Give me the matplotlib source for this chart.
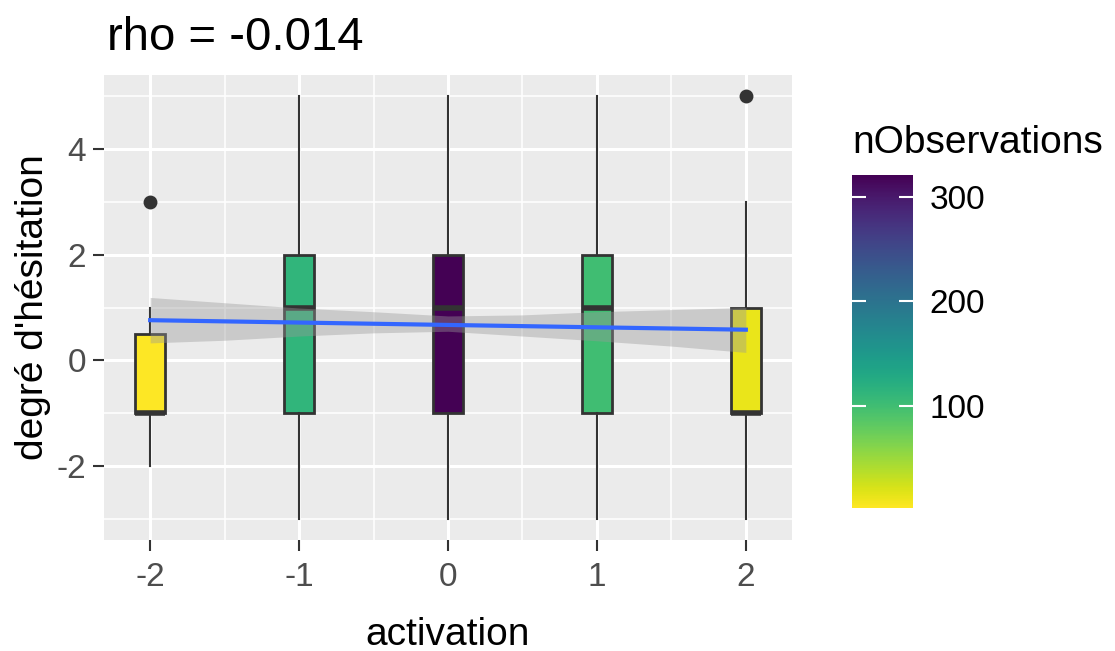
import matplotlib.pyplot as plt
import matplotlib as mpl
import numpy as np

plt.rcParams['font.family'] = ['Liberation Sans', 'DejaVu Sans']
plt.rcParams['axes.unicode_minus'] = False

# boxplot statistics per activation level
activation = [-2, -1, 0, 1, 2]
q1 = [-1, -1, -1, -1, -1]
med = [-1, 1, 1, 1, -1]
q3 = [0.5, 2, 2, 2, 1]
whis_lo = [-2, -3, -3, -3, -3]
whis_hi = [1, 5, 5, 5, 3]
outliers = [[3], [], [], [], [5]]
n_obs = [2, 112, 321, 100, 12]

# linear smooth and its confidence band
line_x = [-2, 2]
line_y = [0.76, 0.58]
band_x = [-2, -1.5, -1, -0.5, 0, 0.5, 1, 1.5, 2]
band_lo = [0.33, 0.38, 0.46, 0.52, 0.55, 0.46, 0.37, 0.27, 0.15]
band_hi = [1.19, 1.09, 0.99, 0.92, 0.84, 0.86, 0.92, 0.96, 1.00]

cmap = mpl.colormaps['viridis_r']
norm = mpl.colors.Normalize(vmin=min(n_obs), vmax=max(n_obs))

W, H = 1115, 651
fig = plt.figure(figsize=(W / 100, H / 100), dpi=100)
ax = fig.add_axes([104 / W, 1 - 540 / H, (792 - 104) / W, (540 - 75) / H])
ax.set_facecolor('#EBEBEB')
for s in ax.spines.values():
    s.set_visible(False)

stats = []
for i in range(len(activation)):
    stats.append(dict(med=med[i], q1=q1[i], q3=q3[i],
                      whislo=whis_lo[i], whishi=whis_hi[i], fliers=outliers[i]))
bp = ax.bxp(stats, positions=activation, widths=0.2, patch_artist=True,
            showcaps=False, manage_ticks=False,
            boxprops=dict(edgecolor='#333333', linewidth=2),
            whiskerprops=dict(color='#333333', linewidth=1.5),
            medianprops=dict(color='#333333', linewidth=4, solid_capstyle='butt'),
            flierprops=dict(marker='o', markerfacecolor='#333333',
                            markeredgecolor='none', markersize=10))
for patch, n in zip(bp['boxes'], n_obs):
    patch.set_facecolor(cmap(norm(n)))
for item in bp['boxes'] + bp['whiskers'] + bp['medians'] + bp['fliers']:
    item.set_zorder(3)

ax.fill_between(band_x, band_lo, band_hi, color='#999999', alpha=0.4,
                linewidth=0, zorder=4)
ax.plot(line_x, line_y, color='#3366FF', linewidth=3, zorder=5)

ax.set_xlim(-2.31, 2.31)
ax.set_ylim(-3.4, 5.4)
ax.set_xticks(activation)
ax.set_xticks([-1.5, -0.5, 0.5, 1.5], minor=True)
ax.set_yticks([-2, 0, 2, 4])
ax.set_yticks([-3, -1, 1, 3, 5], minor=True)
ax.grid(which='major', color='white', linewidth=2.2, zorder=0)
ax.grid(which='minor', color='white', linewidth=1.1, zorder=0)
ax.set_axisbelow(True)
ax.tick_params(which='major', length=8, width=1.5, color='#333333',
               labelsize=24, labelcolor='#4D4D4D')
ax.tick_params(axis='x', pad=8)
ax.tick_params(axis='y', pad=5)
ax.tick_params(which='minor', length=0)

ax.set_xlabel('activation', fontsize=28, labelpad=17)
ax.set_ylabel("degré d'hésitation", fontsize=28, labelpad=4)
fig.text(107 / W, 1 - 50 / H, 'rho = -0.014', fontsize=34, va='baseline')

# colourbar legend
cax = fig.add_axes([852 / W, 1 - 508 / H, 61 / W, (508 - 175) / H])
cb = fig.colorbar(mpl.cm.ScalarMappable(norm=norm, cmap=cmap), cax=cax)
cb.outline.set_visible(False)
cb.set_ticks([100, 200, 300])
cax.tick_params(direction='in', length=10, width=1.5, color='white',
                left=True, right=True, labelsize=24, labelcolor='black', pad=12)
fig.text(852 / W, 1 - 153 / H, 'nObservations', fontsize=28, va='baseline')

fig.savefig('out.png', dpi=100)
